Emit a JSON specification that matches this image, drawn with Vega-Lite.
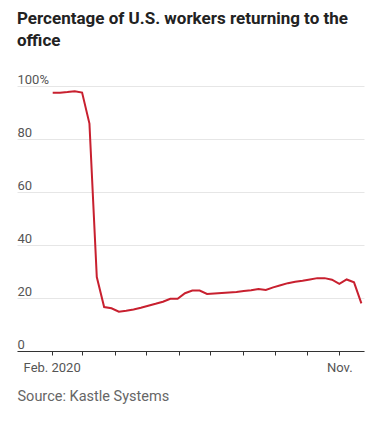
{
  "$schema": "https://vega.github.io/schema/vega-lite/v6.json",
  "autosize": {"type": "none"},
  "width": 347,
  "height": 265,
  "padding": {"left": 17, "top": 86, "right": 9, "bottom": 77},
  "background": "white",
  "title": {
    "text": ["Percentage of U.S. workers returning to the", "office"],
    "anchor": "start",
    "frame": "group",
    "font": "Roboto",
    "fontSize": 17,
    "fontWeight": "bold",
    "color": "#222222",
    "lineHeight": 22,
    "offset": 23
  },
  "config": {"view": {"stroke": null}},
  "data": {
    "values": [
      {"date": "2020-02-02", "pct": 97.5},
      {"date": "2020-02-09", "pct": 97.5},
      {"date": "2020-02-16", "pct": 97.7},
      {"date": "2020-02-23", "pct": 98.0},
      {"date": "2020-03-01", "pct": 97.5},
      {"date": "2020-03-08", "pct": 85.8},
      {"date": "2020-03-15", "pct": 27.9},
      {"date": "2020-03-22", "pct": 16.6},
      {"date": "2020-03-29", "pct": 16.1},
      {"date": "2020-04-05", "pct": 14.8},
      {"date": "2020-04-12", "pct": 15.2},
      {"date": "2020-04-19", "pct": 15.7},
      {"date": "2020-04-26", "pct": 16.3},
      {"date": "2020-05-03", "pct": 17.1},
      {"date": "2020-05-10", "pct": 17.8},
      {"date": "2020-05-17", "pct": 18.6},
      {"date": "2020-05-24", "pct": 19.7},
      {"date": "2020-05-31", "pct": 19.7},
      {"date": "2020-06-07", "pct": 21.8},
      {"date": "2020-06-14", "pct": 22.8},
      {"date": "2020-06-21", "pct": 22.8},
      {"date": "2020-06-28", "pct": 21.5},
      {"date": "2020-07-05", "pct": 21.7},
      {"date": "2020-07-12", "pct": 21.9},
      {"date": "2020-07-19", "pct": 22.1},
      {"date": "2020-07-26", "pct": 22.3},
      {"date": "2020-08-02", "pct": 22.6},
      {"date": "2020-08-09", "pct": 22.9},
      {"date": "2020-08-16", "pct": 23.4},
      {"date": "2020-08-23", "pct": 23.0},
      {"date": "2020-08-30", "pct": 24.0},
      {"date": "2020-09-06", "pct": 24.8},
      {"date": "2020-09-13", "pct": 25.6},
      {"date": "2020-09-20", "pct": 26.1},
      {"date": "2020-09-27", "pct": 26.5},
      {"date": "2020-10-04", "pct": 27.0},
      {"date": "2020-10-11", "pct": 27.5},
      {"date": "2020-10-18", "pct": 27.5},
      {"date": "2020-10-25", "pct": 26.9},
      {"date": "2020-11-01", "pct": 25.3},
      {"date": "2020-11-08", "pct": 27.0},
      {"date": "2020-11-15", "pct": 25.9},
      {"date": "2020-11-22", "pct": 18.0}
    ]
  },
  "mark": {"type": "line", "color": "#c8202f", "strokeWidth": 2, "interpolate": "linear"},
  "encoding": {
    "x": {
      "field": "date",
      "type": "temporal",
      "scale": {
        "type": "utc",
        "domain": [
          {"year": 2019, "month": 12, "date": 30, "utc": true},
          {"year": 2020, "month": 11, "date": 24, "hours": 12, "utc": true}
        ]
      },
      "axis": {
        "values": [
          {"year": 2020, "month": 2, "date": 1, "utc": true},
          {"year": 2020, "month": 3, "date": 1, "utc": true},
          {"year": 2020, "month": 4, "date": 1, "utc": true},
          {"year": 2020, "month": 5, "date": 1, "utc": true},
          {"year": 2020, "month": 6, "date": 1, "utc": true},
          {"year": 2020, "month": 7, "date": 1, "utc": true},
          {"year": 2020, "month": 8, "date": 1, "utc": true},
          {"year": 2020, "month": 9, "date": 1, "utc": true},
          {"year": 2020, "month": 10, "date": 1, "utc": true},
          {"year": 2020, "month": 11, "date": 1, "utc": true}
        ],
        "labelExpr": "utcmonth(datum.value) == 1 ? 'Feb. 2020' : (utcmonth(datum.value) == 10 ? 'Nov.' : '')",
        "grid": false,
        "domainColor": "#333333",
        "domainWidth": 1,
        "tickColor": "#333333",
        "tickSize": 4,
        "labelPadding": 6,
        "labelFlush": false,
        "labelOverlap": false,
        "labelFont": "Roboto",
        "labelFontSize": 13,
        "labelColor": "#555555",
        "title": "Source: Kastle Systems",
        "titleAnchor": "start",
        "titleAlign": "left",
        "titleFont": "Roboto",
        "titleFontSize": 14.5,
        "titleFontWeight": "normal",
        "titleColor": "#666666",
        "titlePadding": 15
      }
    },
    "y": {
      "field": "pct",
      "type": "quantitative",
      "scale": {"domain": [0, 100], "nice": false},
      "axis": {
        "values": [0, 20, 40, 60, 80, 100],
        "labelExpr": "datum.value == 100 ? '100%' : (datum.value == 0 ? '\u2007\u20070' : '\u2007' + datum.label)",
        "domain": false,
        "ticks": false,
        "tickSize": 0,
        "grid": true,
        "gridColor": "#e6e6e6",
        "gridWidth": 1,
        "labelAlign": "left",
        "labelBaseline": "bottom",
        "labelPadding": 0,
        "labelFont": "Roboto",
        "labelFontSize": 13,
        "labelColor": "#555555",
        "title": null
      }
    }
  }
}
